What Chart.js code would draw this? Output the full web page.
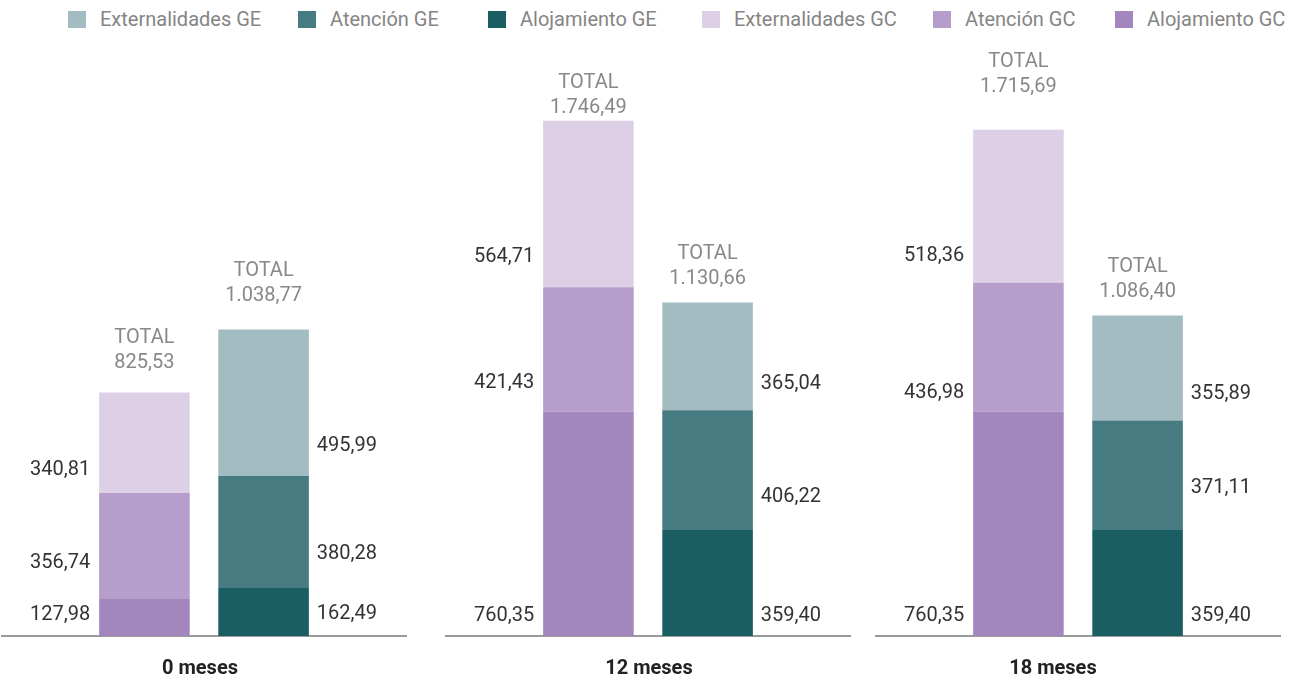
<!DOCTYPE html>
<html>
<head>
<meta charset="utf-8">
<script src="https://cdn.jsdelivr.net/npm/chart.js@4"></script>
<style>
  html, body { margin: 0; padding: 0; background: #fff; }
  body { width: 1301px; height: 681px; position: relative; overflow: hidden; font-family: Roboto, sans-serif; }
  #legend { position: absolute; left: 0; top: 7px; width: 1301px; height: 24px; }
  .item { position: absolute; top: 0; display: flex; align-items: center; height: 24px; font-size: 20px; color: #858585; white-space: nowrap; }
  .box { width: 18px; height: 17px; margin-right: 14px; }
  .panel { position: absolute; top: 0; width: 406px; height: 706px; }
</style>
</head>
<body>
<div id="legend"></div>
<div class="panel" style="left:1px"><canvas id="c0"></canvas></div>
<div class="panel" style="left:445px"><canvas id="c1"></canvas></div>
<div class="panel" style="left:875px"><canvas id="c2"></canvas></div>
<script>
const meses = ['0 meses', '12 meses', '18 meses'];

const alojamientoGC = [127.98, 760.35, 760.35];
const atencionGC = [356.74, 421.43, 436.98];
const externalidadesGC = [340.81, 564.71, 518.36];

const alojamientoGE = [162.49, 359.40, 359.40];
const atencionGE = [380.28, 406.22, 371.11];
const externalidadesGE = [495.99, 365.04, 355.89];

const totalGC = [825.53, 1746.49, 1715.69];
const totalGE = [1038.77, 1130.66, 1086.40];

// legend order as in the picture
const legendItems = [
  ['Externalidades GE', '#a3bcc1'],
  ['Atención GE', '#467b82'],
  ['Alojamiento GE', '#1a5e64'],
  ['Externalidades GC', '#dccfe6'],
  ['Atención GC', '#b59ecb'],
  ['Alojamiento GC', '#a386bd']
];
const colors = Object.fromEntries(legendItems);
const legendLeft = [68, 298, 488, 702, 933, 1115];

// how far each value label sits above the bottom of its segment (px)
const liftGC = [[21, 35, 23], [20, 29, 30], [20, 19, 27]];
const liftGE = [[22, 34, 30], [20, 33, 26], [20, 42, 26]];
// how far the total value sits above the top of the bar (px)
const totalLiftGC = [29, 13, 43];
const totalLiftGE = [34, 23, 24];

const legendEl = document.getElementById('legend');
legendItems.forEach(([name, col], k) => {
  legendEl.innerHTML += `<div class="item" style="left:${legendLeft[k]}px"><span class="box" style="background:${col}"></span>${name}</div>`;
});

function fmt(v) {
  const parts = v.toFixed(2).split('.');
  const ent = parts[0].replace(/\B(?=(\d{3})+(?!\d))/g, '.');
  return ent + ',' + parts[1];
}

const labelOffsets = [-4, 1, -25];

const segmentLabels = {
  id: 'segmentLabels',
  afterDatasetsDraw(chart) {
    const ctx = chart.ctx;
    const i = chart.options.panelIndex;
    ctx.save();
    ctx.textBaseline = 'middle';
    chart.data.datasets.forEach((ds, d) => {
      const bar = chart.getDatasetMeta(d).data[0];
      const isGC = ds.stack === 'GC';
      const lift = (isGC ? liftGC : liftGE)[i][ds.level];
      const y = bar.base - lift;
      ctx.font = '20px Roboto';
      ctx.fillStyle = '#333';
      if (isGC) {
        ctx.textAlign = 'right';
        ctx.fillText(fmt(ds.data[0]), bar.x - bar.width / 2 - 9, y);
      } else {
        ctx.textAlign = 'left';
        ctx.fillText(fmt(ds.data[0]), bar.x + bar.width / 2 + 8, y);
      }
      if (ds.level === 2) {
        const tot = isGC ? totalGC[i] : totalGE[i];
        const tl = isGC ? totalLiftGC[i] : totalLiftGE[i];
        ctx.textAlign = 'center';
        ctx.fillStyle = '#888';
        ctx.fillText('TOTAL', bar.x, bar.y - tl - 25);
        ctx.fillText(fmt(tot), bar.x, bar.y - tl);
      }
    });
    ctx.restore();
  }
};

for (let i = 0; i < 3; i++) {
  const datasets = [
    { label: 'Alojamiento GC', data: [alojamientoGC[i]], stack: 'GC', level: 0 },
    { label: 'Atención GC', data: [atencionGC[i]], stack: 'GC', level: 1 },
    { label: 'Externalidades GC', data: [externalidadesGC[i]], stack: 'GC', level: 2 },
    { label: 'Alojamiento GE', data: [alojamientoGE[i]], stack: 'GE', level: 0 },
    { label: 'Atención GE', data: [atencionGE[i]], stack: 'GE', level: 1 },
    { label: 'Externalidades GE', data: [externalidadesGE[i]], stack: 'GE', level: 2 }
  ];
  datasets.forEach(ds => {
    ds.backgroundColor = colors[ds.label];
    ds.borderWidth = 0;
    ds.barPercentage = 0.76;
    ds.categoryPercentage = 0.587;
  });

  new Chart(document.getElementById('c' + i), {
    type: 'bar',
    data: { labels: [meses[i]], datasets: datasets },
    options: {
      panelIndex: i,
      responsive: true,
      maintainAspectRatio: false,
      animation: false,
      layout: { padding: { top: 46, bottom: 4, left: 0, right: 0 } },
      plugins: { legend: { display: false }, tooltip: { enabled: false } },
      scales: {
        x: {
          stacked: true,
          grid: { display: false, drawTicks: false },
          border: { display: true, color: '#999', width: 2 },
          ticks: {
            color: '#222',
            padding: 21,
            labelOffset: labelOffsets[i],
            font: { family: 'Roboto', size: 20, weight: 'bold' }
          }
        },
        y: { stacked: true, display: false, min: 0, max: 2000 }
      }
    },
    plugins: [segmentLabels]
  });
}
</script>
</body>
</html>
